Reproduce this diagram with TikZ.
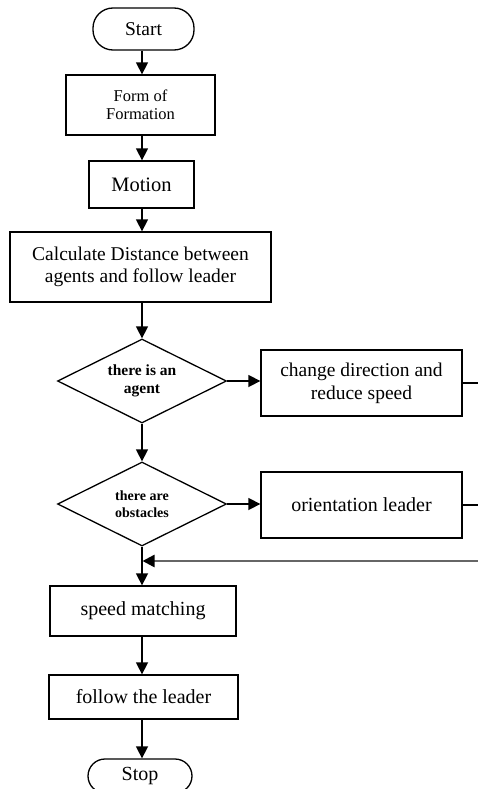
\documentclass[tikz,border=0pt]{standalone}
\usepackage{fontspec}
\setmainfont{Liberation Serif}
\usetikzlibrary{shapes.geometric,arrows.meta}
\begin{document}
\begin{tikzpicture}[x=1pt,y=-1pt,
  every node/.style={align=center,inner sep=0pt,font=\fontsize{19.5}{23}\selectfont},
  box/.style={draw,line width=1.3pt,rectangle},
  term/.style={draw,line width=1.3pt,rounded corners=20pt},
  decis/.style={draw,line width=1.3pt,diamond,aspect=2},
  arr/.style={line width=1.5pt,-{Triangle[length=12pt,width=12pt]}},
  ln/.style={line width=1.5pt}]
\useasboundingbox (0,0) rectangle (478,789);
\coordinate (col) at (142,0);
\node[term,minimum width=101pt,minimum height=42pt] (start) at (143.5,29) {Start};
\node[box,minimum width=149pt,minimum height=60pt,font=\fontsize{16.5}{18}\selectfont] (form) at (140.5,105) {Form of\\Formation};
\node[box,minimum width=105pt,minimum height=47pt,font=\fontsize{20.5}{24}\selectfont] (motion) at (141.5,184.5) {Motion};
\node[box,minimum width=261pt,minimum height=70pt] (calc) at (140.5,267) {\raisebox{6pt}{\begin{tabular}{@{}c@{}}Calculate Distance between\\[-1pt]agents and follow leader\end{tabular}}};
\node[decis,minimum width=169pt,minimum height=84pt,font=\bfseries\fontsize{15.5}{18}\selectfont] (d1) at (142,381) {there is an\\agent};
\node[box,minimum width=201pt,minimum height=66pt] (change) at (361.5,383) {change direction and\\reduce speed};
\node[decis,minimum width=169pt,minimum height=84pt,font=\bfseries\fontsize{14}{17.5}\selectfont] (d2) at (142,504) {there are\\obstacles};
\node[box,minimum width=201pt,minimum height=66pt,font=\fontsize{20}{24}\selectfont] (orient) at (361.5,505) {orientation leader};
\node[box,minimum width=186pt,minimum height=50pt,font=\fontsize{20}{24}\selectfont] (speed) at (143,611) {speed matching};
\node[box,minimum width=189pt,minimum height=44pt,font=\fontsize{20}{24}\selectfont] (follow) at (143.5,697) {follow the leader};
\node[term,minimum width=104pt,minimum height=34pt,rounded corners=17pt,font=\fontsize{20}{24}\selectfont] (stop) at (140,776) {Stop};
\coordinate (ret) at (480,561);
\coordinate (e1) at (480,383);
\coordinate (e2) at (480,505);
\draw[arr] (start.south -| col) -- (form.north -| col);
\draw[arr] (form.south -| col) -- (motion.north -| col);
\draw[arr] (motion.south -| col) -- (calc.north -| col);
\draw[arr] (calc.south -| col) -- (d1.north);
\draw[arr] (d1.east) -- (change.west |- d1.east);
\draw[arr] (d1.south) -- (d2.north);
\draw[arr] (d2.east) -- (orient.west |- d2.east);
\draw[ln] (change.east) -- (e1);
\draw[ln] (orient.east) -- (e2);
\draw[arr] (d2.south) -- (d2.south |- speed.north);
\draw[line width=2.5pt,gray!80!black,-{Triangle[length=12pt,width=12pt,color=black]},shorten >=0.5pt] (ret) -- (ret -| d2.south);
\draw[arr] (speed.south -| col) -- (follow.north -| col);
\draw[arr] (follow.south -| col) -- (stop.north -| col);
\end{tikzpicture}
\end{document}
